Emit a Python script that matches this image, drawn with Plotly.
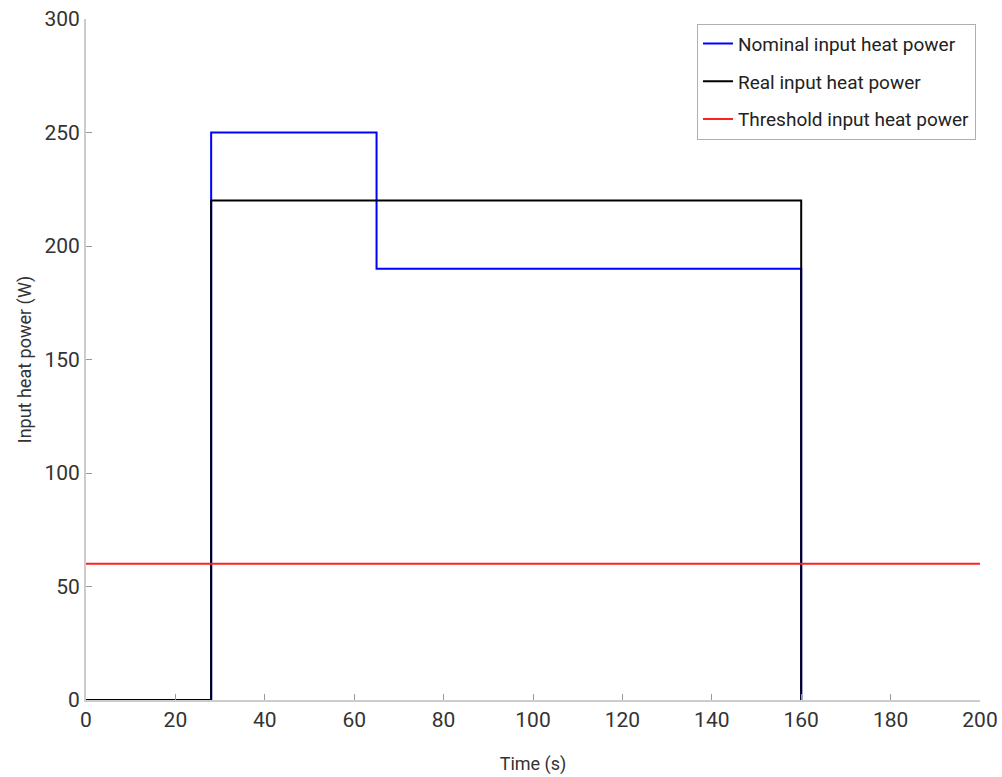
import plotly.graph_objects as go

nominal_t = [0, 28, 28, 65, 65, 160, 160]
nominal_p = [0, 0, 250, 250, 190, 190, 0]
real_t = [0, 28, 28, 160, 160]
real_p = [0, 0, 220, 220, 0]
thresh_t = [0, 200]
thresh_p = [60, 60]

FONT = "Roboto, sans-serif"

fig = go.Figure()
fig.add_trace(go.Scatter(x=nominal_t, y=nominal_p, mode="lines", name="Nominal input heat power",
                         legendgroup="a", line=dict(color="#0000ff", width=2)))
fig.add_trace(go.Scatter(x=real_t, y=real_p, mode="lines", name="Real input heat power",
                         legendgroup="b", line=dict(color="#000000", width=2)))
fig.add_trace(go.Scatter(x=thresh_t, y=thresh_p, mode="lines", name="Threshold input heat power",
                         legendgroup="c", line=dict(color="#ff2020", width=2)))

fig.update_layout(
    width=1002, height=777,
    margin=dict(l=86, r=22, t=19, b=77, autoexpand=False),
    paper_bgcolor="white", plot_bgcolor="white",
    font=dict(family=FONT, color="#333333", size=18),
    showlegend=True,
    legend=dict(x=0.9955, y=0.993, xanchor="right", yanchor="top",
                bordercolor="#b0b0b0", borderwidth=1, bgcolor="white",
                font=dict(size=19, family=FONT, color="#222222"), tracegroupgap=10,
                itemwidth=30),
)
fig.update_xaxes(range=[0, 200], tickvals=list(range(0, 201, 20)), automargin=False,
                 showgrid=False, zeroline=False, showline=True, linecolor="#cccccc", linewidth=2,
                 ticks="inside", ticklen=6, tickcolor="#999999", ticklabeloverflow="allow",
                 title=dict(text="Time (s)", font=dict(size=18), standoff=26),
                 tickfont=dict(size=21))
fig.update_yaxes(range=[0, 300], tickvals=list(range(0, 301, 50)), automargin=False,
                 showgrid=False, zeroline=False, showline=True, linecolor="#cccccc", linewidth=2,
                 ticks="inside", ticklen=6, tickcolor="#999999", ticklabeloverflow="allow",
                 title=dict(text="Input heat power (W)", font=dict(size=18), standoff=8),
                 tickfont=dict(size=21))

fig.write_html("out.html", config={"displayModeBar": False},
               post_script="document.body.style.margin='0';")
